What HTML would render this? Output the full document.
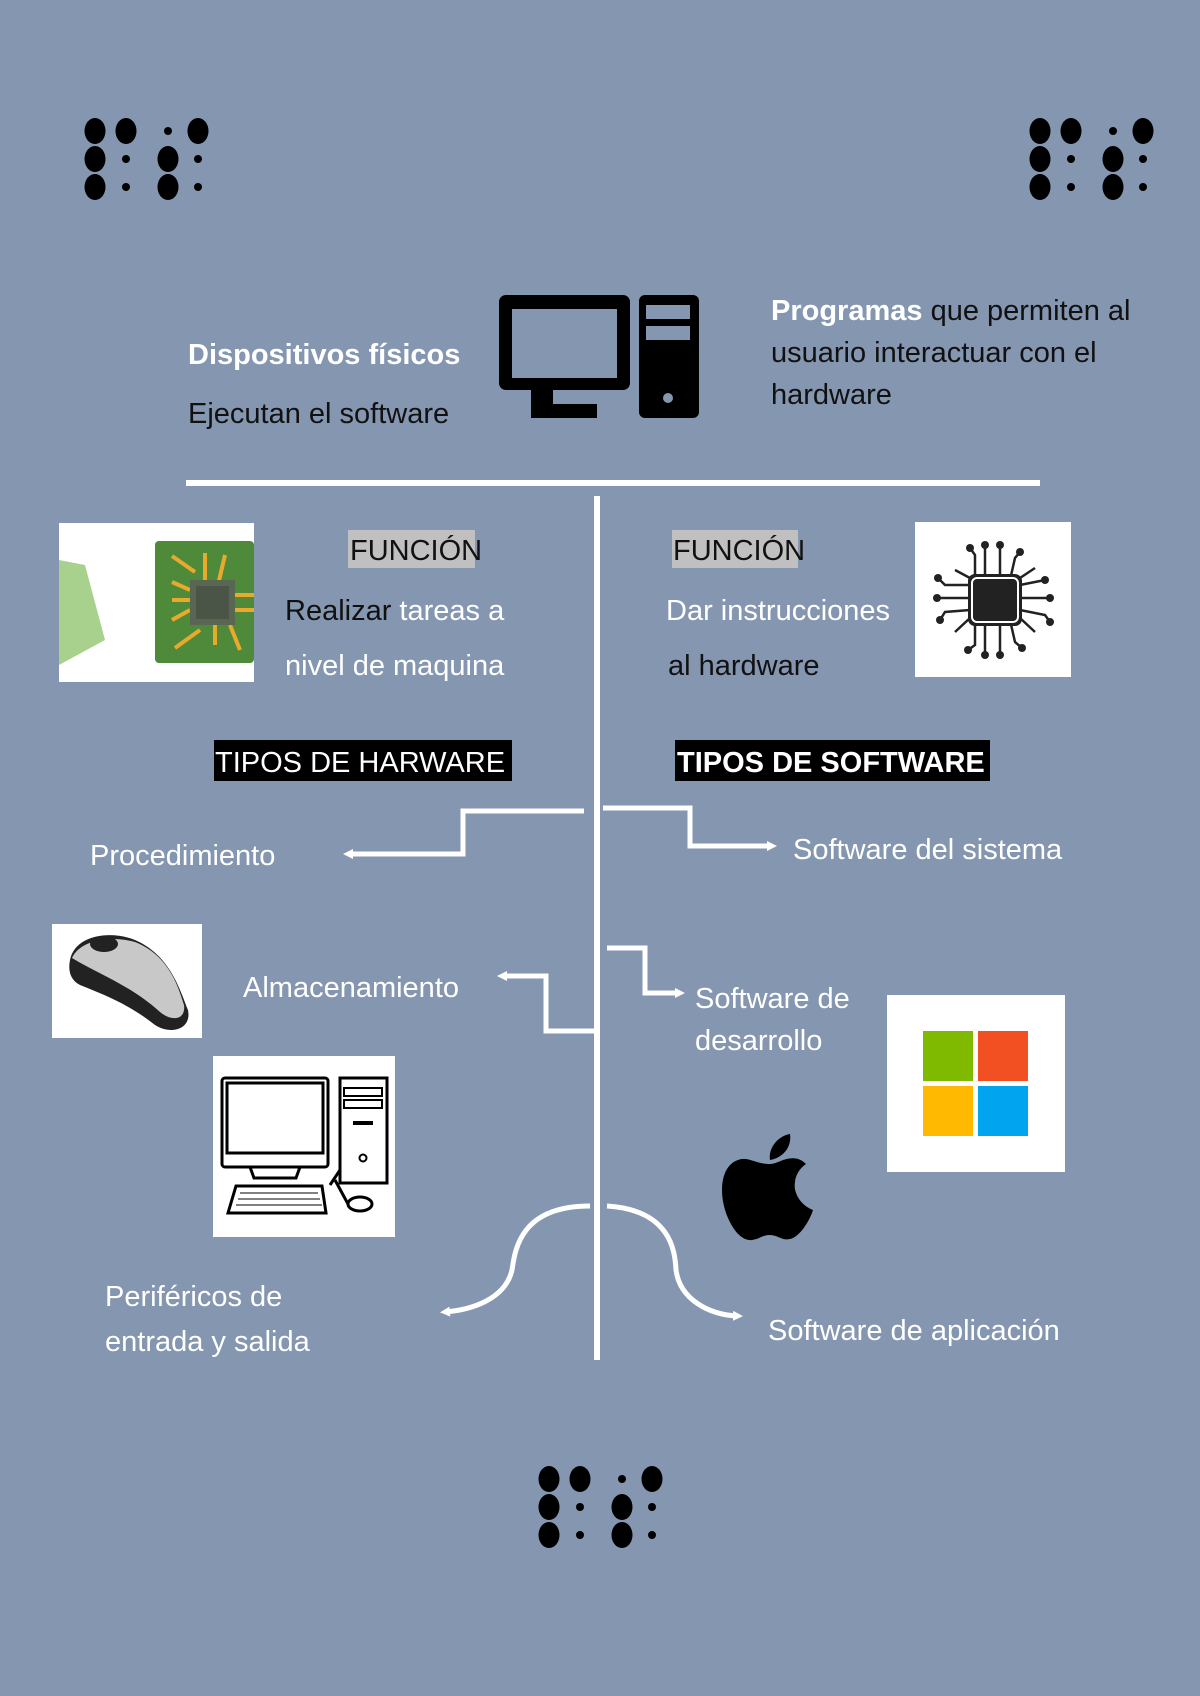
<!DOCTYPE html>
<html><head><meta charset="utf-8"><style>
html,body{margin:0;padding:0}
body{width:1200px;height:1696px;background:#8496b0;overflow:hidden;position:relative;font-family:"Liberation Sans",sans-serif}
svg{position:absolute;left:0;top:0}
text{font-family:"Liberation Sans",sans-serif;font-size:29px}
.w{fill:#fff}.d{fill:#111}
</style></head><body>
<svg width="1200" height="1696" viewBox="0 0 1200 1696">
<defs>
<g id="br">
<ellipse cx="0" cy="0" rx="10.5" ry="13"/><ellipse cx="31" cy="0" rx="10.5" ry="13"/><circle cx="73" cy="0" r="4"/><ellipse cx="103" cy="0" rx="10.5" ry="13"/>
<ellipse cx="0" cy="28" rx="10.5" ry="13"/><circle cx="31" cy="28" r="4"/><ellipse cx="73" cy="28" rx="10.5" ry="13"/><circle cx="103" cy="28" r="4"/>
<ellipse cx="0" cy="56" rx="10.5" ry="13"/><circle cx="31" cy="56" r="4"/><ellipse cx="73" cy="56" rx="10.5" ry="13"/><circle cx="103" cy="56" r="4"/>
</g>
<marker id="ar" markerWidth="10" markerHeight="10" refX="5" refY="5" orient="auto" markerUnits="userSpaceOnUse"><path d="M0,0 L10,5 L0,10 Z" fill="#fff"/></marker>
</defs>
<use href="#br" x="95" y="131"/>
<use href="#br" x="1040" y="131"/>
<use href="#br" x="549" y="1479"/>

<!-- computer icon -->
<rect x="499" y="295" width="131" height="95" rx="7" fill="#000"/>
<rect x="512" y="309" width="105" height="69" fill="#8496b0"/>
<rect x="531" y="390" width="22" height="14" fill="#000"/>
<rect x="531" y="404" width="66" height="14" fill="#000"/>
<rect x="639" y="295" width="60" height="123" rx="6" fill="#000"/>
<rect x="646" y="305" width="44" height="14" fill="#8496b0"/>
<rect x="646" y="326" width="44" height="14" fill="#8496b0"/>
<circle cx="668" cy="398" r="5" fill="#8496b0"/>

<text x="188" y="364" class="w" font-weight="bold" font-size="25">Dispositivos físicos</text>
<text x="188" y="423" class="d">Ejecutan el software</text>
<text x="771" y="320" class="d"><tspan class="w" font-weight="bold">Programas</tspan> que permiten al</text>
<text x="771" y="362" class="d">usuario interactuar con el</text>
<text x="771" y="404" class="d">hardware</text>

<rect x="186" y="480" width="854" height="6" fill="#fff"/>
<rect x="594" y="496" width="6" height="864" fill="#fff"/>

<!-- left chip image -->
<rect x="59" y="523" width="195" height="159" fill="#fff"/>
<polygon points="59,560 85,565 105,640 59,665" fill="#a9d18e"/>
<rect x="155" y="541" width="99" height="122" rx="4" fill="#4f8a3a"/>
<g stroke="#e8a92c" stroke-width="4" fill="none">
<path d="M172,556 L195,572 M205,553 L205,585 M225,555 L218,585 M172,582 L190,590 M172,600 L195,600 M172,620 L190,610 M175,648 L200,630 M215,645 L215,620 M240,650 L230,625 M235,595 L254,595 M235,610 L254,610"/>
</g>
<rect x="190" y="580" width="45" height="45" fill="#5a6654"/>
<rect x="196" y="586" width="33" height="33" fill="#4a5548"/>

<rect x="348" y="530" width="127" height="38" fill="#c0c0c0"/>
<text x="350" y="560" class="d" fill="#333" font-size="27">FUNCIÓN</text>
<text x="285" y="620" class="w"><tspan class="d">Realizar</tspan> tareas a</text>
<text x="285" y="675" class="w">nivel de maquina</text>

<rect x="672" y="530" width="126" height="38" fill="#c0c0c0"/>
<text x="673" y="560" class="d" fill="#333" font-size="27">FUNCIÓN</text>
<text x="666" y="620" class="w">Dar instrucciones</text>
<text x="668" y="675" class="d">al hardware</text>

<!-- right chip image -->
<rect x="915" y="522" width="156" height="155" fill="#fff"/>
<g stroke="#222" stroke-width="2.5" fill="none">
<path d="M975,580 L975,555 L970,548 M985,580 L985,545 M1000,580 L1000,545 M1010,580 L1015,558 L1020,552 M975,620 L975,645 L968,650 M985,620 L985,655 M1000,620 L1000,655 M1010,620 L1015,642 L1022,648 M970,585 L945,585 L938,578 M970,598 L937,598 M970,610 L945,612 L940,620 M1020,585 L1045,580 M1020,598 L1050,598 M1020,610 L1045,615 L1050,622 M970,578 L955,570 M1020,578 L1035,568 M970,618 L955,632 M1020,618 L1035,632"/>
</g>
<g fill="#222"><circle cx="970" cy="548" r="4"/><circle cx="985" cy="545" r="4"/><circle cx="1000" cy="545" r="4"/><circle cx="1020" cy="552" r="4"/><circle cx="968" cy="650" r="4"/><circle cx="985" cy="655" r="4"/><circle cx="1000" cy="655" r="4"/><circle cx="1022" cy="648" r="4"/><circle cx="938" cy="578" r="4"/><circle cx="937" cy="598" r="4"/><circle cx="940" cy="620" r="4"/><circle cx="1045" cy="580" r="4"/><circle cx="1050" cy="598" r="4"/><circle cx="1050" cy="622" r="4"/></g>
<rect x="968" y="574" width="54" height="52" rx="7" fill="#222"/>
<rect x="972" y="578" width="46" height="44" rx="5" fill="none" stroke="#fff" stroke-width="2"/>

<rect x="214" y="740" width="298" height="41" fill="#000"/>
<text x="215" y="772" class="w" font-size="30">TIPOS DE HARWARE</text>
<rect x="675" y="740" width="315" height="41" fill="#000"/>
<text x="677" y="772" class="w" font-size="29" font-weight="bold">TIPOS DE SOFTWARE</text>

<!-- connectors -->
<g stroke="#fff" stroke-width="5" fill="none">
<polyline points="584,811 463,811 463,854 348,854" marker-end="url(#ar)"/>
<polyline points="603,808 690,808 690,846 772,846" marker-end="url(#ar)"/>
<polyline points="597,1031 546,1031 546,976 502,976" marker-end="url(#ar)"/>
<polyline points="607,948 645,948 645,993 680,993" marker-end="url(#ar)"/>
<path d="M590,1206 C520,1206 515,1250 512,1270 C505,1300 470,1310 445,1312" marker-end="url(#ar)"/>
<path d="M607,1206 C670,1210 675,1250 676,1270 C680,1300 710,1315 738,1316" marker-end="url(#ar)"/>
</g>
<text x="90" y="865" class="w">Procedimiento</text>
<text x="793" y="859" class="w">Software del sistema</text>
<text x="243" y="997" class="w">Almacenamiento</text>
<text x="695" y="1008" class="w">Software de</text>
<text x="695" y="1050" class="w">desarrollo</text>
<text x="105" y="1306" class="w">Periféricos de</text>
<text x="105" y="1351" class="w">entrada y salida</text>
<text x="768" y="1340" class="w">Software de aplicación</text>

<!-- mouse -->
<rect x="52" y="924" width="150" height="114" fill="#fff"/>
<path d="M70,960 C75,935 110,930 135,940 C170,955 180,990 188,1010 C192,1030 170,1035 155,1025 C130,1005 105,995 80,985 C70,980 68,970 70,960 Z" fill="#222"/>
<path d="M72,958 C80,940 110,935 135,942 C168,955 178,985 184,1005 C186,1020 172,1022 160,1012 C130,985 100,975 72,958 Z" fill="#c8c8c8"/>
<ellipse cx="104" cy="944" rx="14" ry="8" fill="#222"/>

<!-- desktop -->
<rect x="213" y="1056" width="182" height="181" fill="#fff"/>
<g fill="none" stroke="#000" stroke-width="3">
<rect x="222" y="1078" width="106" height="89" rx="3"/>
<rect x="227" y="1083" width="96" height="70"/>
<rect x="340" y="1078" width="47" height="105"/>
<rect x="344" y="1088" width="38" height="8" stroke-width="2"/>
<rect x="344" y="1100" width="38" height="8" stroke-width="2"/>
<path d="M250,1167 L254,1178 L296,1178 L300,1167"/>
<path d="M236,1186 L322,1186 L326,1213 L228,1213 Z"/>
<ellipse cx="360" cy="1204" rx="12" ry="7"/>
<path d="M340,1170 L330,1185 M348,1204 L335,1180"/>
</g>
<rect x="353" y="1121" width="20" height="4" fill="#000"/>
<circle cx="363" cy="1158" r="3.5" fill="none" stroke="#000" stroke-width="2"/>
<g stroke="#000" stroke-width="1"><path d="M240,1193 L318,1193 M238,1199 L320,1199 M236,1205 L322,1205"/></g>

<!-- microsoft -->
<rect x="887" y="995" width="178" height="177" fill="#fff"/>
<rect x="923" y="1031" width="50" height="50" fill="#7fba00"/>
<rect x="978" y="1031" width="50" height="50" fill="#f25022"/>
<rect x="923" y="1086" width="50" height="50" fill="#ffb900"/>
<rect x="978" y="1086" width="50" height="50" fill="#00a4ef"/>

<!-- apple -->
<path d="M790,1134 C792,1148 782,1158 770,1160 C768,1148 778,1136 790,1134 Z" fill="#000"/>
<path d="M770,1164 C755,1164 748,1156 738,1160 C720,1166 718,1195 728,1218 C735,1234 744,1241 752,1240 C760,1239 762,1235 770,1235 C778,1235 782,1241 790,1239 C800,1237 810,1220 813,1210 C800,1205 793,1192 795,1182 C796,1172 803,1166 806,1164 C798,1156 790,1158 783,1160 C778,1162 774,1164 770,1164 Z" fill="#000"/>
</svg>
</body></html>
